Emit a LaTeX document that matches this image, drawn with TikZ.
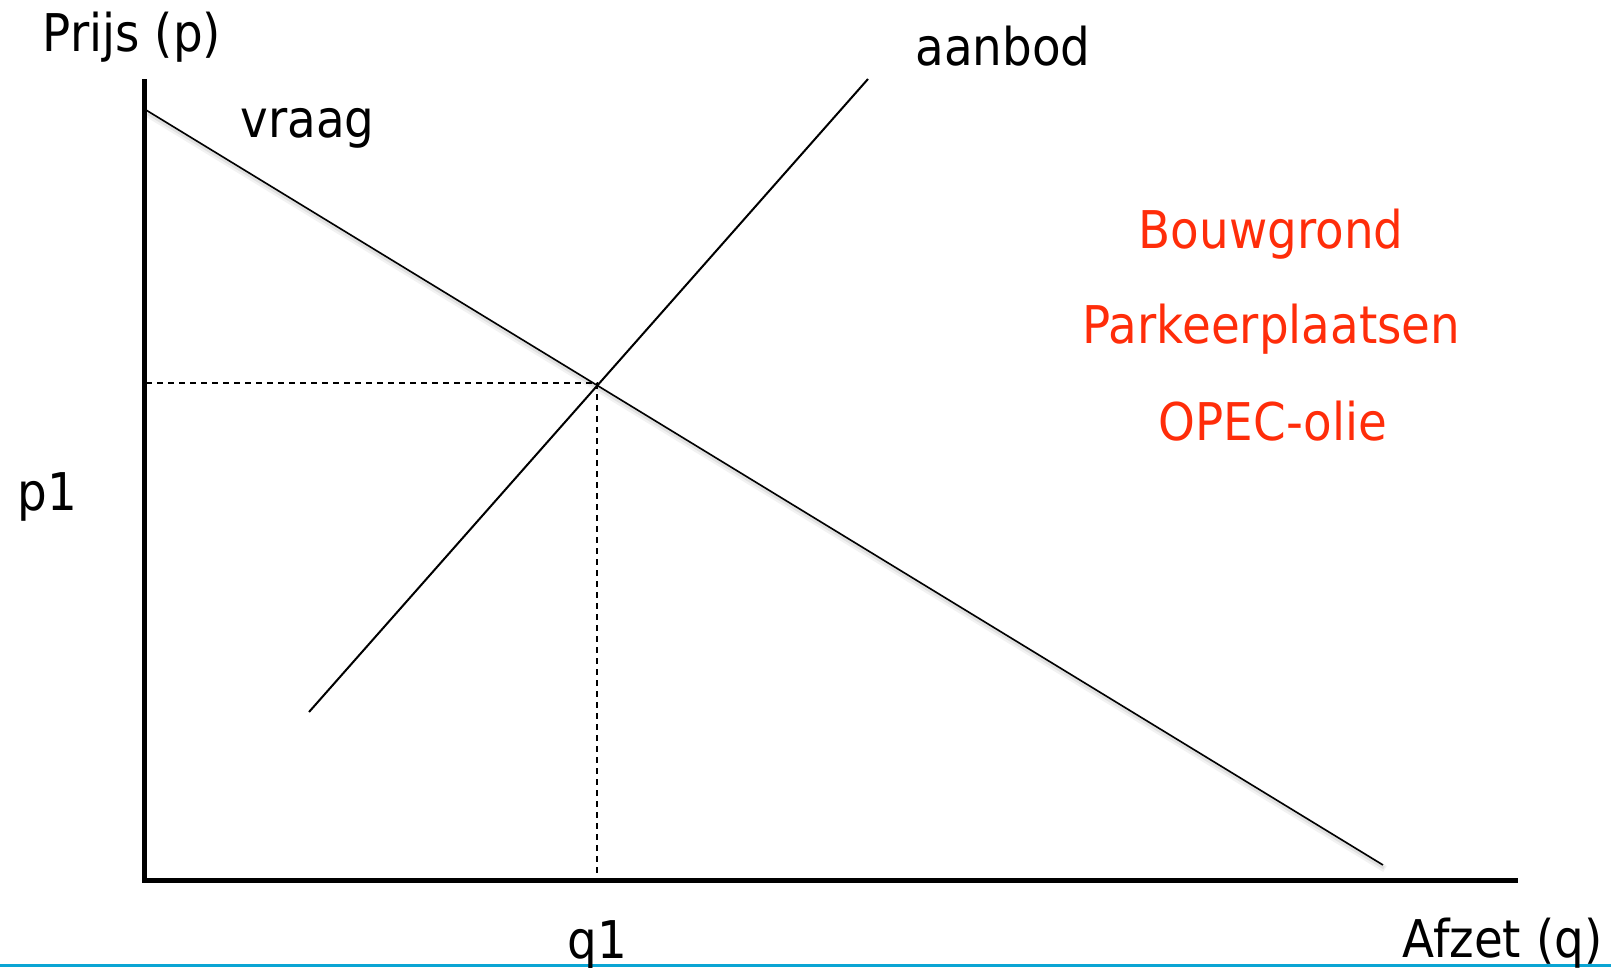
\documentclass[tikz,border=0pt]{standalone}
\usepackage{fontspec}
\setmainfont{DejaVu Sans}[FakeStretch=0.9]
\definecolor{redtxt}{RGB}{255,45,10}
\definecolor{bluebar}{RGB}{10,165,212}
\begin{document}
\begin{tikzpicture}[x=1pt,y=-1pt,
  lbl/.style={inner sep=0pt,outer sep=0pt,anchor=base,font=\fontsize{52}{60}\selectfont},
  redlbl/.style={lbl,text=redtxt},
  axisline/.style={line width=5pt,line join=miter},
  curve/.style={line width=1.6pt},
  guide/.style={line width=1.5pt,dash pattern=on 6pt off 5pt}]
\useasboundingbox (0,0) rectangle (1611,967);
\fill[white] (0,0) rectangle (1611,967);
% coordinates
\coordinate (ytop) at (144,79);
\coordinate (orig) at (144,880.5);
\coordinate (xend) at (1518,880.5);
\coordinate (d1) at (146,110);
\coordinate (d2) at (1383,865);
\coordinate (s1) at (309,712);
\coordinate (s2) at (868,79);
\coordinate (eq) at (597,383);
\coordinate (peq) at (146,383);
\coordinate (qeq) at (597,878);
% shadow of demand line
\draw[line width=7pt,black,opacity=0.05] ([shift={(2,4)}]d1) -- ([shift={(2,4)}]d2);
\draw[line width=3pt,black,opacity=0.07] ([shift={(1,3)}]d1) -- ([shift={(1,3)}]d2);
% guides
\draw[guide] (peq) -- (eq) -- (qeq);
% axes
\draw[axisline] (ytop) -- (orig) -- (xend);
% curves
\draw[curve] (d1) -- (d2);
\draw[curve,line width=2pt] (s1) -- (s2);
% bottom bar
\draw[bluebar,line width=3pt] (0,965.5) -- (1611,965.5);
% labels
\node[lbl] (ylab) at (132,51) {Prijs (p)};
\node[lbl] (vraag) at (307.5,137) {vraag};
\node[lbl] (aanbod) at (1003,65) {aanbod};
\node[lbl] (p1) at (47.5,510) {p1};
\node[lbl] (q1) at (597.5,958) {q1};
\node[lbl] (xlab) at (1502.5,957) {Afzet (q)};
\node[redlbl] (r1) at (1271,248) {Bouwgrond};
\node[redlbl] (r2) at (1271.5,343) {Parkeerplaatsen};
\node[redlbl] (r3) at (1273,440) {OPEC-olie};
\end{tikzpicture}
\end{document}
